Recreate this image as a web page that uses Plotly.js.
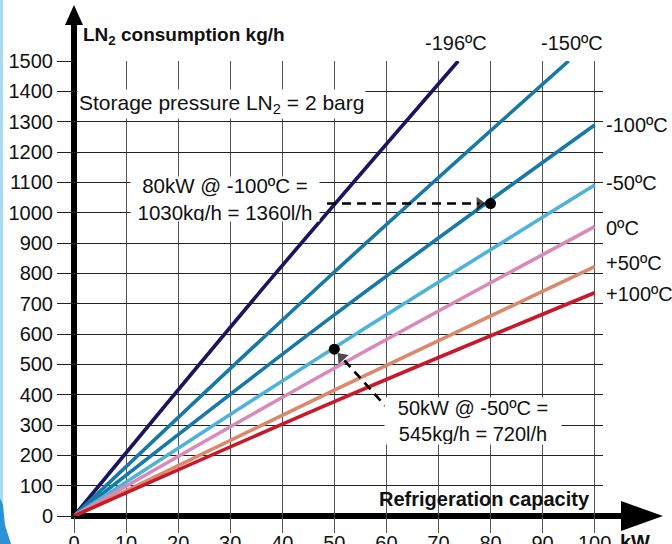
<!DOCTYPE html>
<html>
<head>
<meta charset="utf-8">
<script src="https://cdn.plot.ly/plotly-3.0.1.min.js"></script>
<style>html,body{margin:0;padding:0;background:#fff;}#chart{width:672px;height:544px;}</style>
</head>
<body>
<div id="chart"></div>
<script>
// ---- data ----
const seriesNames = ['-196ºC', '-150ºC', '-100ºC', '-50ºC', '0ºC', '+50ºC', '+100ºC'];
const seriesColors = ['#1b1560', '#1679a8', '#1679a8', '#4fb2d9', '#d98ab8', '#da896d', '#c8192a'];
const kwM196 = [0, 37, 73.8];
const ln2M196 = [0, 765, 1500];
const kwM150 = [0, 47.5, 95];
const ln2M150 = [0, 765, 1500];
const kwFull = [0, 50, 100];
const ln2M100 = [0, 663, 1289];
const ln2M50 = [0, 555, 1091];
const ln2Zero = [0, 487, 954];
const ln2P50 = [0, 415, 822];
const ln2P100 = [0, 377, 736];
const seriesX = [kwM196, kwM150, kwFull, kwFull, kwFull, kwFull, kwFull];
const seriesY = [ln2M196, ln2M150, ln2M100, ln2M50, ln2Zero, ln2P50, ln2P100];

const xTicks = [0, 10, 20, 30, 40, 50, 60, 70, 80, 90, 100];
const yTicks = [0, 100, 200, 300, 400, 500, 600, 700, 800, 900, 1000, 1100, 1200, 1300, 1400, 1500];

// example points and their dashed pointer arrows
const exampleKW = [80, 50];
const exampleLN2 = [1030, 550];
const arrow1X = [48.6, 77.9];
const arrow1Y = [1030, 1030];
const arrow2X = [60.8, 51.4];
const arrow2Y = [344, 523];

const FONT = 'Liberation Sans, Arial, Helvetica, sans-serif';

const traces = seriesNames.map((n, i) => ({
  type: 'scatter', mode: 'lines', name: n,
  x: seriesX[i], y: seriesY[i],
  line: {color: seriesColors[i], width: 3.6, shape: 'spline', smoothing: 1},
  hoverinfo: 'skip'
}));
[[arrow1X, arrow1Y], [arrow2X, arrow2Y]].forEach(([ax, ay]) => {
  traces.push({type: 'scatter', mode: 'lines+markers', x: ax, y: ay,
    line: {color: '#000', width: 2.6, dash: '9px,6px'},
    marker: {symbol: 'triangle-up', size: [0, 12], color: '#000', angleref: 'previous', line: {width: 0}},
    hoverinfo: 'skip', cliponaxis: false});
});
traces.push({type: 'scatter', mode: 'markers', x: exampleKW, y: exampleLN2,
  marker: {color: '#000', size: 11}, hoverinfo: 'skip', cliponaxis: false});

// pixel helpers for paper coordinates (plot area 74..603 x, 61..516 y)
const L = 74, T = 61, W = 529, H = 455;
const px = v => (v - L) / W;
const py = v => (T + H - v) / H;

const rightLabelY = [125, 183, 228, 263, 294];
const annotations = [
  {text: '<b>LN<sub>2</sub> consumption kg/h</b>', x: px(81), y: py(36), xanchor: 'left', yanchor: 'middle', font: {size: 19}},
  {text: '-196ºC', x: px(456), y: py(43), xanchor: 'center', yanchor: 'middle'},
  {text: '-150ºC', x: px(572), y: py(43), xanchor: 'center', yanchor: 'middle'},
  {text: 'Storage pressure LN<sub>2</sub> = 2 barg', x: px(77), y: py(104), xanchor: 'left', yanchor: 'middle', bgcolor: '#fff', borderpad: 1, font: {size: 21}},
  {text: '80kW @ -100ºC =<br>1030kg/h = 1360l/h', x: px(225), y: py(199), xanchor: 'center', yanchor: 'middle', bgcolor: '#fff', width: 188, height: 44, borderpad: 0, font: {size: 20.5}},
  {text: '50kW @ -50ºC =<br>545kg/h = 720l/h', x: px(473), y: py(421), xanchor: 'center', yanchor: 'middle', bgcolor: '#fff', width: 176, height: 46, borderpad: 0},
  {text: '<b>Refrigeration capacity</b>', x: px(592), y: py(499), xanchor: 'right', yanchor: 'middle'},
  {text: '<b>kW</b>', x: px(618), y: py(542), xanchor: 'left', yanchor: 'middle'}
];
seriesNames.slice(2).forEach((n, i) => {
  annotations.push({text: n, x: px(604), y: py(rightLabelY[i]), xanchor: 'left', yanchor: 'middle'});
});
annotations.forEach(a => {
  a.xref = 'paper'; a.yref = 'paper'; a.showarrow = false;
  a.font = Object.assign({family: FONT, size: 20, color: '#111'}, a.font || {});
});

const tri = (pts) => 'M ' + pts.map(p => p[0] + ',' + p[1]).join(' L ') + ' Z';
const shapes = [
  // left light-blue frame strip and corner
  {type: 'rect', xref: 'paper', yref: 'paper', x0: px(0), x1: px(3), y0: py(544), y1: py(0), fillcolor: '#a9daf3', line: {width: 0}, layer: 'below'},
  {type: 'path', xref: 'paper', yref: 'paper', path: tri([[px(0), py(498)], [px(3), py(505)], [px(5), py(525)], [px(11), py(544)], [px(0), py(544)]]), fillcolor: '#2b92d8', line: {width: 0}, layer: 'below'},
  // axes with arrows
  {type: 'line', xref: 'paper', yref: 'paper', x0: 0, x1: 0, y0: py(519), y1: py(22), line: {color: '#000', width: 6}, layer: 'below'},
  {type: 'path', xref: 'paper', yref: 'paper', path: tri([[px(74), py(5)], [px(83), py(25)], [px(65), py(25)]]), fillcolor: '#000', line: {width: 0}, layer: 'below'},
  {type: 'line', xref: 'paper', yref: 'paper', x0: px(71), x1: px(625), y0: 0, y1: 0, line: {color: '#000', width: 6}, layer: 'below'},
  {type: 'path', xref: 'paper', yref: 'paper', path: tri([[px(621), py(501)], [px(663), py(516)], [px(621), py(531)]]), fillcolor: '#000', line: {width: 0}, layer: 'below'}
];

const layout = {
  width: 672, height: 544,
  margin: {l: L, r: 672 - L - W, t: T, b: 544 - T - H, pad: 0},
  paper_bgcolor: '#fff', plot_bgcolor: 'rgba(0,0,0,0)',
  showlegend: false, hovermode: false,
  font: {family: FONT, size: 20, color: '#111'},
  xaxis: {
    range: [0, 101.6], tickvals: xTicks, ticktext: xTicks.map(String),
    showgrid: true, gridcolor: '#555', gridwidth: 1,
    ticks: 'outside', ticklen: 16, tickcolor: '#555', tickwidth: 1,
    ticklabelstandoff: -7,
    zeroline: false, showline: false, fixedrange: true,
    tickfont: {family: FONT, size: 20, color: '#111'}
  },
  yaxis: {
    range: [0, 1500], tickvals: yTicks, ticktext: yTicks.map(String),
    showgrid: true, gridcolor: '#222', gridwidth: 1,
    ticks: 'outside', ticklen: 16, tickcolor: '#222', tickwidth: 1,
    zeroline: false, showline: false, fixedrange: true,
    tickfont: {family: FONT, size: 20, color: '#111'}
  },
  annotations: annotations,
  shapes: shapes
};

Plotly.newPlot('chart', traces, layout, {staticPlot: true, displayModeBar: false});
</script>
</body>
</html>
